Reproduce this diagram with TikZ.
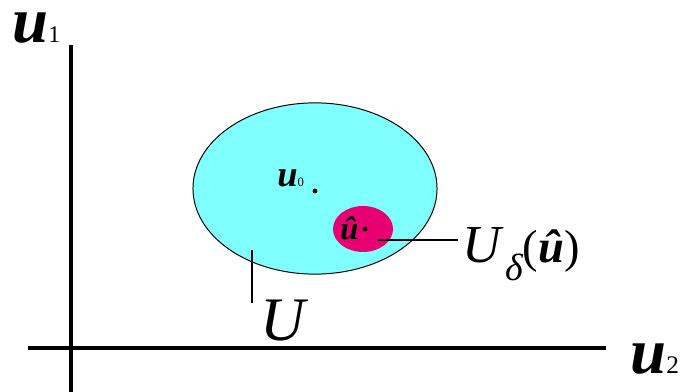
\documentclass[tikz,border=0pt]{standalone}
\usepackage{fontspec}
\setmainfont{Liberation Serif}
\usetikzlibrary{shapes.geometric,positioning}
\definecolor{setcol}{RGB}{128,255,255}
\definecolor{ballcol}{RGB}{232,0,115}

\begin{document}
\begin{tikzpicture}[x=0.025cm,y=-0.025cm,
  ax/.style={line width=2.2pt},
  lead/.style={line width=1.4pt},
  dot/.style={circle,fill=black,inner sep=0pt,minimum size=3.4pt},
  lab/.style={inner sep=0pt,anchor=base west}]
\useasboundingbox (0,0) rectangle (682,392);
% axes
\coordinate (ytop) at (71,45);
\coordinate (ybot) at (71,392);
\coordinate (xl) at (28,348);
\coordinate (xr) at (606,348);
\draw[ax](ybot)--(ytop);
\draw[ax](xl)--(xr);
\node[lab,text height=0.5em](u1) at(12,43){\fontsize{46}{46}\selectfont\bfseries\itshape u\fontsize{17}{17}\selectfont\mdseries\upshape 1};
\node[lab](u2) at(630,373){\fontsize{46}{46}\selectfont\bfseries\itshape u\fontsize{18}{18}\selectfont\mdseries\upshape 2};
% the set U and the ball
\node[draw,ellipse,fill=setcol,line width=0.7pt,minimum width=6.1cm,minimum height=4.28cm](U) at(315,188.5){};
\node[ellipse,fill=ballcol,minimum width=1.5cm,minimum height=1.15cm](B) at(363,229){};
\node[dot](p0) at(315,191){};
\node[lab](u0) at(277,187){\fontsize{26}{26}\selectfont\bfseries\itshape u\fontsize{9}{9}\selectfont\mdseries\upshape 0};
\node[dot](ph) at(365,229){};
\node[lab](uh) at(340,240){\fontsize{23}{23}\selectfont\bfseries\itshape \^u};
% labels with leaders
\coordinate (bl) at(378,240);
\coordinate (br) at(458,240);
\draw[lead](bl)--(br);
\node[lab](Ud) at(462,263){\fontsize{38}{38}\selectfont\itshape U\hspace{3pt}\raisebox{-12.5pt}{\fontsize{27}{27}\selectfont δ}\fontsize{33}{33}\selectfont\upshape(\textbf{\textit{\^u}})};
\coordinate (mt) at(252,250);
\coordinate (mb) at(252,303);
\draw[lead](mt)--(mb);
\node[lab](Ulab) at(260,340){\fontsize{44}{44}\selectfont\itshape U};
\end{tikzpicture}
\end{document}
